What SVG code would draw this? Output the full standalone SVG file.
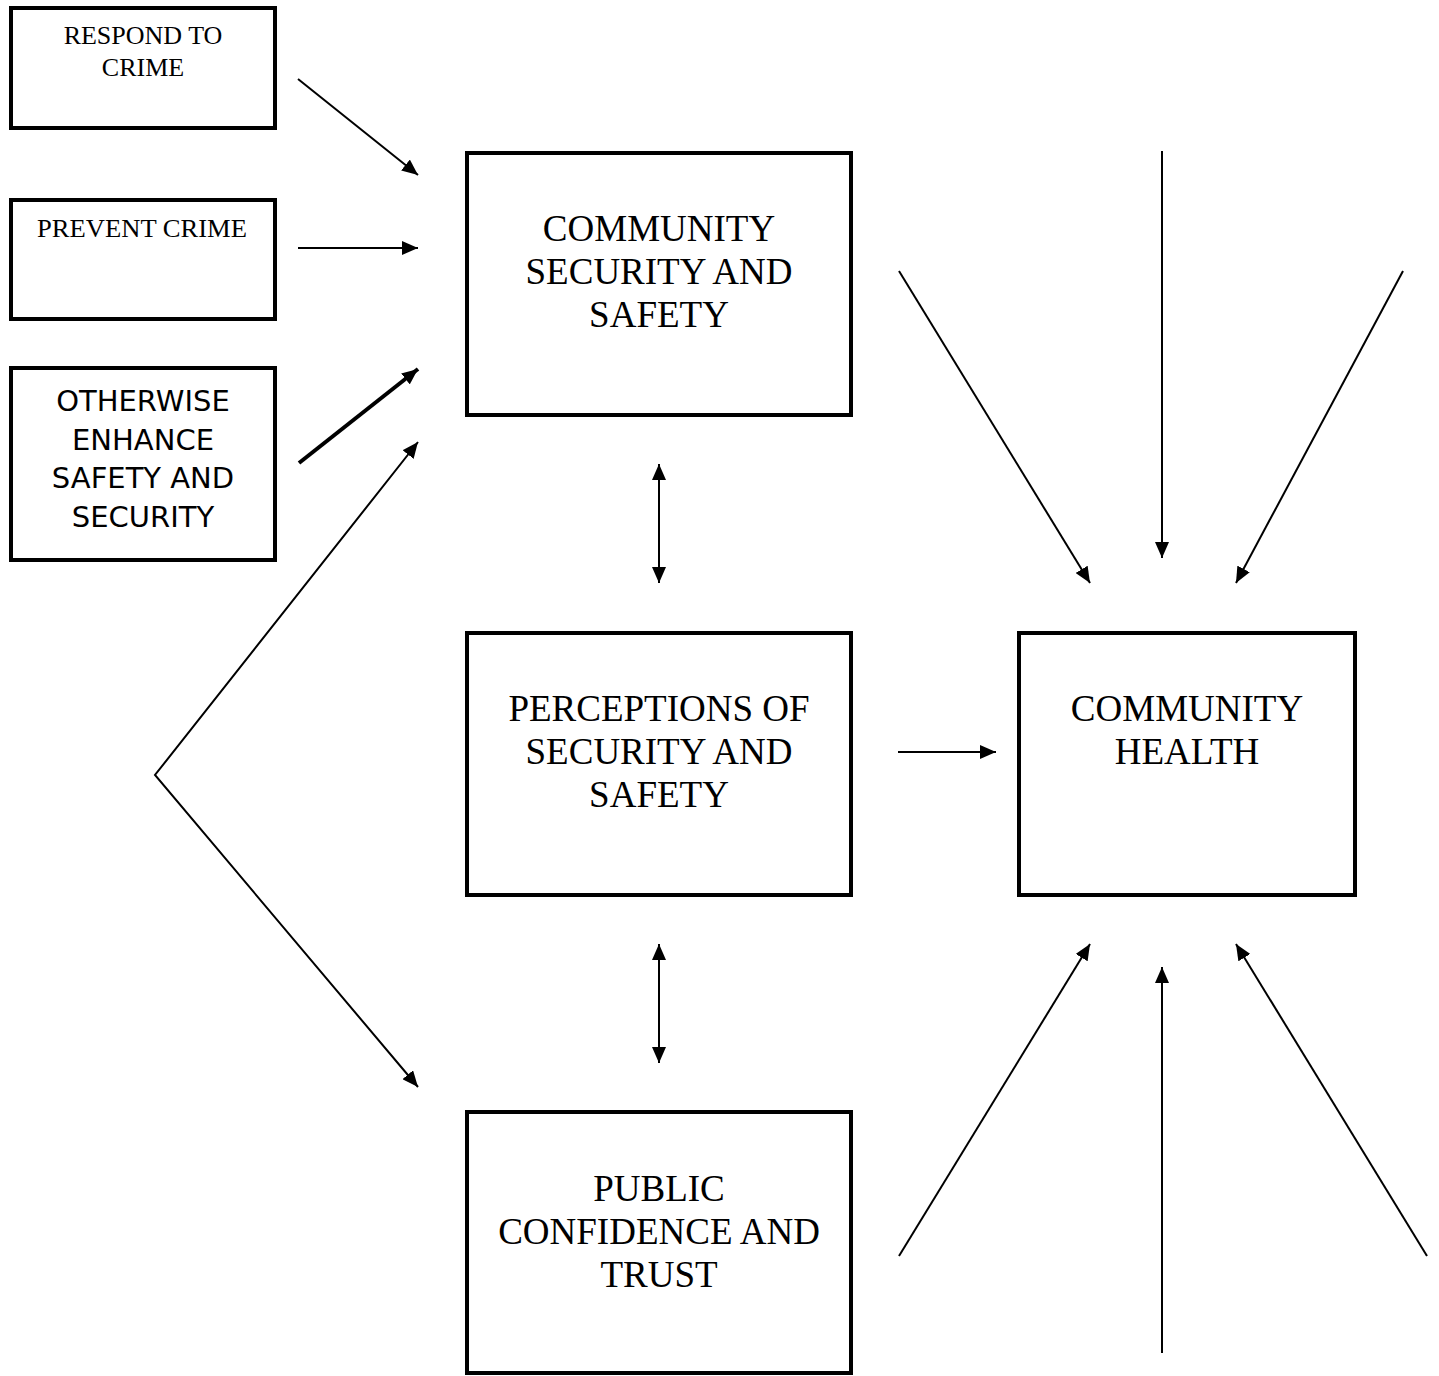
<svg xmlns="http://www.w3.org/2000/svg" width="1439" height="1376" viewBox="0 0 1439 1376">
<style>
.box{fill:#fff;stroke:#000;stroke-width:4}
.serif{font-family:"Liberation Serif","Times New Roman",serif;fill:#000;text-anchor:middle}
.sans{font-family:"DejaVu Sans",Verdana,sans-serif;fill:#000;text-anchor:middle}
.big{font-size:37px}
.small{font-size:26px}
.conn{fill:none;stroke:#000;stroke-width:2}
.thick{stroke-width:4}
</style>
<defs>
<marker id="ah" viewBox="0 0 16 14" markerWidth="16" markerHeight="14" refX="16" refY="7" orient="auto-start-reverse" markerUnits="userSpaceOnUse">
<path d="M0,0 L16,7 L0,14 z" fill="#000"/>
</marker>
</defs>
<rect width="1439" height="1376" fill="#fff"/>
<g id="respond">
<rect class="box" x="11" y="8" width="264" height="120"/>
<text class="serif small" x="143" y="44">RESPOND TO</text>
<text class="serif small" x="143" y="76">CRIME</text>
</g>
<g id="prevent">
<rect class="box" x="11" y="200" width="264" height="119"/>
<text class="serif" x="142" y="237" font-size="25" textLength="210" lengthAdjust="spacingAndGlyphs">PREVENT CRIME</text>
</g>
<g id="otherwise">
<rect class="box" x="11" y="368" width="264" height="192"/>
<text class="sans" font-size="29" x="143" y="411">OTHERWISE</text>
<text class="sans" font-size="29" x="143" y="450">ENHANCE</text>
<text class="sans" font-size="29" x="143" y="488">SAFETY AND</text>
<text class="sans" font-size="29" x="143" y="527">SECURITY</text>
</g>
<g id="css">
<rect class="box" x="467" y="153" width="384" height="262"/>
<text class="serif big" x="659" y="241">COMMUNITY</text>
<text class="serif big" x="659" y="284">SECURITY AND</text>
<text class="serif big" x="659" y="327">SAFETY</text>
</g>
<g id="perceptions">
<rect class="box" x="467" y="633" width="384" height="262"/>
<text class="serif big" x="659" y="721">PERCEPTIONS OF</text>
<text class="serif big" x="659" y="764">SECURITY AND</text>
<text class="serif big" x="659" y="807">SAFETY</text>
</g>
<g id="public">
<rect class="box" x="467" y="1112" width="384" height="261"/>
<text class="serif big" x="659" y="1201">PUBLIC</text>
<text class="serif big" x="659" y="1244">CONFIDENCE AND</text>
<text class="serif big" x="659" y="1287">TRUST</text>
</g>
<g id="health">
<rect class="box" x="1019" y="633" width="336" height="262"/>
<text class="serif big" x="1187" y="721">COMMUNITY</text>
<text class="serif big" x="1187" y="764">HEALTH</text>
</g>
<g id="connectors">
<line class="conn" x1="298" y1="79" x2="418" y2="175" marker-end="url(#ah)"/>
<line class="conn" x1="298" y1="248" x2="418" y2="248" marker-end="url(#ah)"/>
<line class="conn thick" x1="299" y1="463" x2="418" y2="369" marker-end="url(#ah)"/>
<polyline class="conn" points="418,442 155,775 418,1087" marker-start="url(#ah)" marker-end="url(#ah)"/>
<line class="conn" x1="659" y1="464" x2="659" y2="583" marker-start="url(#ah)" marker-end="url(#ah)"/>
<line class="conn" x1="659" y1="944" x2="659" y2="1063" marker-start="url(#ah)" marker-end="url(#ah)"/>
<line class="conn" x1="898" y1="752" x2="996" y2="752" marker-end="url(#ah)"/>
<line class="conn" x1="899" y1="271" x2="1090" y2="583" marker-end="url(#ah)"/>
<line class="conn" x1="1162" y1="151" x2="1162" y2="558" marker-end="url(#ah)"/>
<line class="conn" x1="1403" y1="271" x2="1236" y2="583" marker-end="url(#ah)"/>
<line class="conn" x1="899" y1="1256" x2="1090" y2="944" marker-end="url(#ah)"/>
<line class="conn" x1="1162" y1="1353" x2="1162" y2="967" marker-end="url(#ah)"/>
<line class="conn" x1="1427" y1="1256" x2="1236" y2="944" marker-end="url(#ah)"/>
</g>
</svg>
